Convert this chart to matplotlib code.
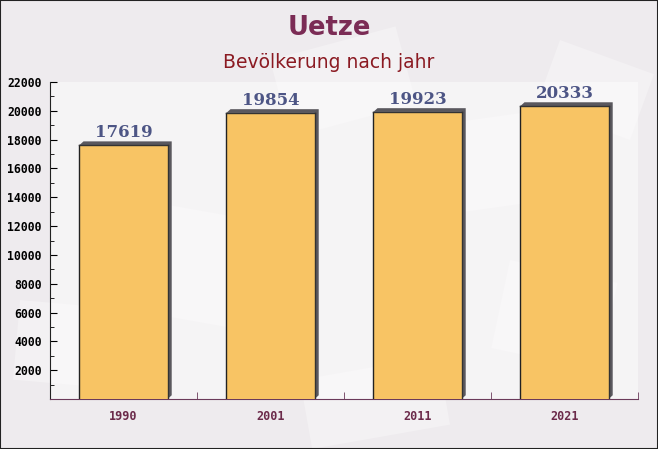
import numpy as np
import matplotlib
matplotlib.use("Agg")
import matplotlib.pyplot as plt
from matplotlib.ticker import MultipleLocator

years = ["1990", "2001", "2011", "2021"]
population = [17619, 19854, 19923, 20333]
yticks = list(range(2000, 22001, 2000))

fig = plt.figure(figsize=(6.58, 4.49), dpi=100)
fig.patch.set_facecolor("#eeebee")

# faint light panels in the background, just for the paper look
bg = fig.add_axes([0, 0, 1, 1], zorder=-5)
bg.set_xlim(0, 658)
bg.set_ylim(449, 0)
bg.axis("off")
for (x0, y0, w, h, a) in [(140, 200, 120, 110, 10), (400, 130, 150, 90, -8),
                          (510, 260, 110, 90, 12), (270, 60, 130, 80, -15),
                          (20, 300, 90, 80, 5), (560, 40, 100, 70, 20),
                          (300, 380, 140, 70, -10)]:
    bg.add_patch(plt.Rectangle((x0, y0), w, h, angle=a, color="white", alpha=0.3, lw=0))

ax = fig.add_axes([50 / 658, 1 - 399 / 449, 588 / 658, 317 / 449])
ax.set_facecolor((1, 1, 1, 0.45))

x = np.arange(len(years))
width = 0.6
dx = 0.028
dy = 260

# shadow / 3d side, as a slanted polygon behind each bar
for xi, h in zip(x, population):
    l, r = xi - width / 2, xi + width / 2
    ax.fill([l, l + dx, r + dx, r + dx, r, r], [h, h + dy, h + dy, dy, 0, h],
            color="#5a585e", lw=0, zorder=2)
ax.bar(x, population, width=width, color="#f8c464", edgecolor="none", zorder=3)
for xi, h in zip(x, population):
    ax.plot([xi - width / 2, xi - width / 2], [0, h], color="#222222", lw=1, zorder=4)
    ax.plot([xi - width / 2, xi + width / 2], [h, h], color="#333333", lw=1, zorder=4)
    ax.plot([xi + width / 2, xi + width / 2], [0, h], color="#333333", lw=1, zorder=4)
    ax.text(xi, h + 280, str(h), ha="center", va="bottom", fontsize=12,
            fontweight="bold", family="DejaVu Serif", color="#4d5585", zorder=5)

ax.set_xlim(-0.5, len(years) - 0.5)
ax.set_ylim(0, 22000)
ax.set_yticks(yticks)
ax.yaxis.set_minor_locator(MultipleLocator(1000))
ax.set_xticks(x)
ax.set_xticklabels(years)
ax.set_xticks(np.arange(-0.5, len(years)), minor=True)
ax.tick_params(axis="x", which="major", length=0, pad=8, labelsize=8.5, labelcolor="#6b2a4a")
ax.tick_params(axis="x", which="minor", direction="in", length=5, color="#6b3a5a")
ax.tick_params(axis="y", which="major", direction="in", length=5, labelsize=8.3, pad=6)
ax.tick_params(axis="y", which="minor", direction="in", length=3)
for lab in ax.get_xticklabels() + ax.get_yticklabels():
    lab.set_family("DejaVu Sans Mono")
    lab.set_fontweight("bold")

ax.spines["top"].set_visible(False)
ax.spines["right"].set_visible(False)
ax.spines["bottom"].set_color("#6b3a5a")
ax.spines["left"].set_color("#222222")

fig.text(0.5, 1 - 28 / 449, "Uetze", ha="center", va="center", fontsize=18.5,
         fontweight="bold", color="#7b2c55")
fig.text(0.5, 1 - 62 / 449, "Bevölkerung nach jahr", ha="center", va="center",
         fontsize=13.5, color="#8b1a22")

# thin frame around the whole picture
fig.add_artist(plt.Rectangle((0, 0), 1, 1, transform=fig.transFigure, fill=False,
                             edgecolor="#222222", lw=1.5))

fig.savefig("out.png", dpi=100, facecolor=fig.get_facecolor())
